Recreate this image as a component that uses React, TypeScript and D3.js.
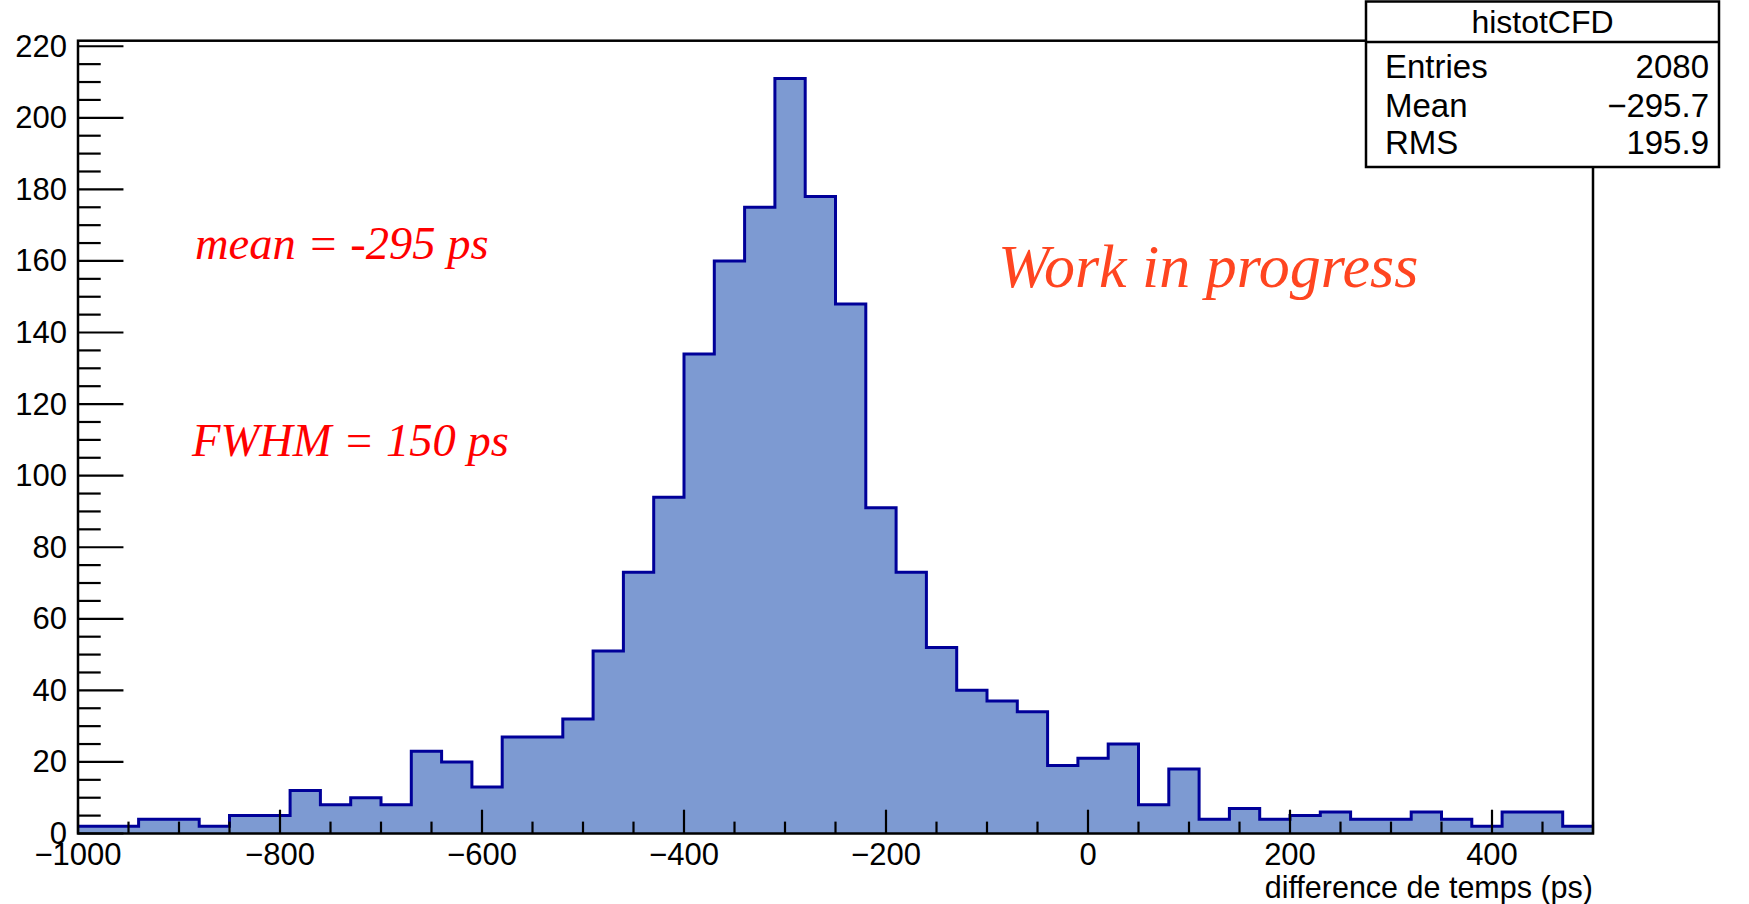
import React from "react";
import * as d3 from "d3";

// ---- data ----
const binStart = -1000;
const binWidth = 30;
const counts: number[] = [
  2, 2, 4, 4, 2, 5, 5, 12, 8, 10,
  8, 23, 20, 13, 27, 27, 32, 51, 73, 94,
  134, 160, 175, 211, 178, 148, 91, 73, 52, 40,
  37, 34, 19, 21, 25, 8, 18, 4, 7, 4,
  5, 6, 4, 4, 6, 4, 2, 6, 6, 2,
];
const xDomain: [number, number] = [-1000, 500];
const yDomain: [number, number] = [0, 221.55];
const xMajorTicks = d3.range(-1000, 501, 200);
const xMinorTicks = d3.range(-1000, 501, 50);
const yMajorTicks = d3.range(0, 221, 20);
const yMinorTicks = d3.range(0, 221, 5);
const statsTitle = "histotCFD";
const statsRows: [string, string][] = [
  ["Entries", "2080"],
  ["Mean", "\u2212295.7"],
  ["RMS", "195.9"],
];
const xTitle = "difference de temps (ps)";
const annotations = ["mean = -295 ps", "FWHM = 150 ps"];
const watermark = "Work in progress";

export default function App() {
  const W = 1749, H = 904;
  const L = 78, R = 1593, T = 40.7, B = 833.5;
  const x = d3.scaleLinear().domain(xDomain).range([L, R]);
  const y = d3.scaleLinear().domain(yDomain).range([B, T]);

  const pts: [number, number][] = counts.map((c, i) => [binStart + i * binWidth, c]);
  pts.push([binStart + counts.length * binWidth, counts[counts.length - 1]]);

  const area = d3.area<[number, number]>()
    .x(d => x(d[0]))
    .y0(y(0))
    .y1(d => y(d[1]))
    .curve(d3.curveStepAfter);
  const line = d3.line<[number, number]>()
    .x(d => x(d[0]))
    .y(d => y(d[1]))
    .curve(d3.curveStepAfter);

  const fmt = (v: number) => d3.format("")(v);
  const font = "'Liberation Sans', Arial, Helvetica, sans-serif";
  const fs = 31;
  const yTickMaj = 0.03 * (R - L);
  const xTickMaj = 0.03 * (B - T);

  const boxL = 1366, boxR = 1719, boxT = 1.5, boxSep = 42, boxB = 167;
  const rowY = [78, 117, 154];
  const serif = "'Liberation Serif', 'Times New Roman', serif";

  return (
    <svg width={W} height={H} style={{ position: "absolute", left: 0, top: 0, background: "#fff" }}>
      <rect x={0} y={0} width={W} height={H} fill="#fff" />
      {/* histogram */}
      <path d={area(pts) || ""} fill="#7d9ad2" stroke="none" />
      <path d={line(pts) || ""} fill="none" stroke="#000099" strokeWidth={3} />

      {/* frame */}
      <rect x={L} y={T} width={R - L} height={B - T} fill="none" stroke="#000" strokeWidth={2.5} />

      {/* y axis ticks */}
      {yMinorTicks.map(t => (
        <line key={"ym" + t} x1={L} x2={L + (t % 20 === 0 ? yTickMaj : yTickMaj / 2)} y1={y(t)} y2={y(t)} stroke="#000" strokeWidth={2.2} />
      ))}
      {yMajorTicks.map(t => (
        <text key={"yl" + t} x={L - 11} y={y(t)} dy="0.34em" textAnchor="end" fontFamily={font} fontSize={fs} fill="#000">{fmt(t)}</text>
      ))}
      {/* x axis ticks */}
      {xMinorTicks.map(t => (
        <line key={"xm" + t} y1={B} y2={B - (t % 200 === 0 ? xTickMaj : xTickMaj / 2)} x1={x(t)} x2={x(t)} stroke="#000" strokeWidth={2.2} />
      ))}
      {xMajorTicks.map(t => (
        <text key={"xl" + t} x={x(t)} y={865} textAnchor="middle" fontFamily={font} fontSize={31} fill="#000">{d3.format("")(t)}</text>
      ))}
      <text x={R} y={898} textAnchor="end" fontFamily={font} fontSize={30.5} fill="#000">{xTitle}</text>

      {/* annotations */}
      <text x={195} y={259} fontFamily={serif} fontStyle="italic" fontSize={46.5} fill="#ff0000">{annotations[0]}</text>
      <text x={192} y={456} fontFamily={serif} fontStyle="italic" fontSize={46.5} fill="#ff0000">{annotations[1]}</text>
      <text x={998} y={287} fontFamily={serif} fontStyle="italic" fontSize={62} fill="#ff4520">{watermark}</text>

      {/* stats box */}
      <rect x={boxL} y={boxT} width={boxR - boxL} height={boxB - boxT} fill="#fff" stroke="#000" strokeWidth={2.5} />
      <line x1={boxL} x2={boxR} y1={boxSep} y2={boxSep} stroke="#000" strokeWidth={2.5} />
      <text x={(boxL + boxR) / 2} y={33} textAnchor="middle" fontFamily={font} fontSize={32} fill="#000">{statsTitle}</text>
      {statsRows.map((r, i) => (
        <g key={r[0]}>
          <text x={boxL + 19} y={rowY[i]} fontFamily={font} fontSize={33} fill="#000">{r[0]}</text>
          <text x={boxR - 10} y={rowY[i]} textAnchor="end" fontFamily={font} fontSize={33} fill="#000">{r[1]}</text>
        </g>
      ))}
    </svg>
  );
}
